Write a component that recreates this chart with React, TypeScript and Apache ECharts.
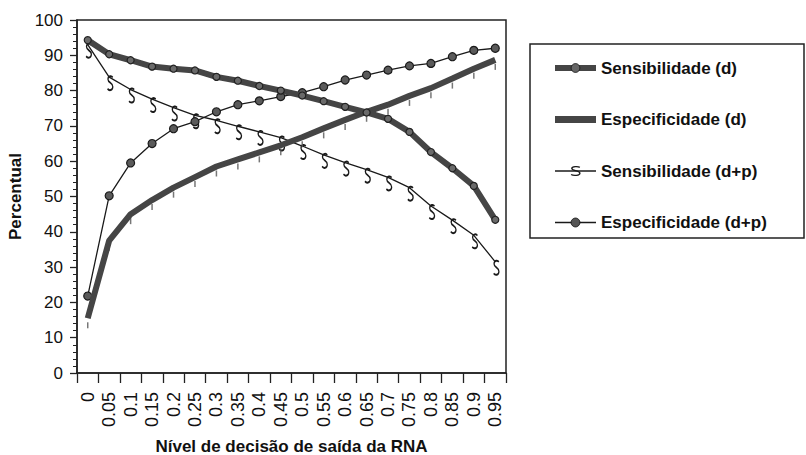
import React, { useEffect, useRef } from 'react';
import * as echarts from 'echarts';

const categories = ['0', '0.05', '0.1', '0.15', '0.2', '0.25', '0.3', '0.35', '0.4', '0.45', '0.5', '0.55', '0.6', '0.65', '0.7', '0.75', '0.8', '0.85', '0.9', '0.95'];

const sensD = [94.3, 90.3, 88.6, 86.8, 86.2, 85.7, 83.9, 82.8, 81.3, 80.0, 78.6, 77.0, 75.4, 73.8, 72.0, 68.3, 62.6, 58.0, 53.0, 43.4];
const especD = [15.5, 37.5, 45.0, 49.0, 52.5, 55.5, 58.5, 60.5, 62.5, 64.5, 66.8, 69.3, 71.7, 74.0, 76.0, 78.5, 80.7, 83.4, 86.2, 88.7];
const sensDP = [93.0, 83.8, 80.3, 77.6, 75.2, 73.0, 71.6, 69.9, 68.3, 66.7, 64.3, 61.8, 59.6, 57.6, 55.4, 52.5, 47.3, 43.3, 39.0, 31.5];
const especDP = [21.8, 50.2, 59.5, 65.0, 69.2, 71.2, 74.0, 76.0, 77.1, 78.3, 79.4, 81.1, 83.0, 84.4, 85.8, 87.0, 87.7, 89.6, 91.4, 92.0];

const seriesNames = ['Sensibilidade (d)', 'Especificidade (d)', 'Sensibilidade (d+p)', 'Especificidade (d+p)'];
const xTitle = 'Nível de decisão de saída da RNA';
const yTitle = 'Percentual';

const FONT = '"Liberation Sans", Arial, Helvetica, sans-serif';
const S_PATH = 'path://M8.5,1.8 C7.2,0.2 1.6,0 1.6,3.6 C1.6,7 8.6,6.6 8.6,10.6 C8.6,14.2 3,14.6 1,12.4';
const BAR_PATH = 'path://M0,0H41V7H0Z';

const THICK = '#454545';
const THIN = '#1a1a1a';

export default function App() {
  const ref = useRef<HTMLDivElement>(null);
  useEffect(() => {
    if (!ref.current) return;
    const chart = echarts.init(ref.current, null, { renderer: 'svg' });
    chart.setOption({
      animation: false,
      backgroundColor: '#fff',
      textStyle: { fontFamily: FONT },
      grid: {
        left: 77, right: 300, top: 20, bottom: 82,
        outerBoundsMode: 'none',
        containLabel: false,
        show: true, borderColor: '#222', borderWidth: 1.5, backgroundColor: 'transparent',
      },
      xAxis: {
        type: 'category',
        data: categories,
        boundaryGap: true,
        axisLine: { lineStyle: { color: '#222', width: 1.5 } },
        axisTick: { show: true, interval: 0, length: 10, lineStyle: { color: '#222', width: 1.3 } },
        axisLabel: { interval: 0, rotate: 90, margin: 19, fontSize: 18, color: '#111', fontFamily: FONT },
        splitLine: { show: false },
        name: xTitle,
        nameLocation: 'middle',
        nameGap: 65,
        nameTextStyle: { fontSize: 17, fontWeight: 'bold', color: '#111', fontFamily: FONT },
      },
      yAxis: {
        type: 'value',
        min: 0, max: 100, interval: 10,
        axisLine: { show: true, lineStyle: { color: '#222', width: 1.5 } },
        axisTick: { show: true, length: 7, lineStyle: { color: '#222', width: 1.3 } },
        minorTick: { show: true, splitNumber: 5, length: 4, lineStyle: { color: '#222', width: 1 } },
        splitLine: { show: false },
        minorSplitLine: { show: false },
        axisLabel: { fontSize: 17, margin: 14, color: '#111', fontFamily: FONT },
        name: yTitle,
        nameLocation: 'middle',
        nameGap: 42,
        nameRotate: 90,
        nameTextStyle: { fontSize: 17, fontWeight: 'bold', color: '#111', fontFamily: FONT },
      },
      legend: {
        data: [
          {
            name: seriesNames[0],
            lineStyle: { width: 6, color: THICK },
            itemStyle: { color: '#666', borderColor: '#222', borderWidth: 1 },
          },
          {
            name: seriesNames[1],
            icon: BAR_PATH,
            itemStyle: { color: THICK },
          },
          {
            name: seriesNames[2],
            lineStyle: { width: 1.3, color: THIN },
            itemStyle: { color: 'transparent', borderColor: THIN, borderWidth: 1.4 },
          },
          {
            name: seriesNames[3],
            lineStyle: { width: 1.3, color: THIN },
            itemStyle: { color: '#555', borderColor: THIN, borderWidth: 1 },
          },
        ],
        orient: 'vertical',
        left: 547,
        top: 53,
        itemWidth: 41,
        itemHeight: 11,
        itemGap: 31.5,
        itemTextGap: 16,
        textStyle: { fontSize: 17, fontWeight: 'bold', color: '#111', fontFamily: FONT, lineHeight: 20 },
      },
      graphic: [
        {
          type: 'rect',
          shape: { x: 530, y: 44, width: 274, height: 194 },
          style: { fill: 'transparent', stroke: '#222', lineWidth: 1.5 },
          silent: true,
        },
      ],
      series: [
        {
          name: seriesNames[2],
          type: 'line',
          data: sensDP,
          lineStyle: { width: 1.3, color: THIN },
          symbol: S_PATH,
          symbolSize: [9, 14],
          symbolKeepAspect: true,
          symbolOffset: [1, 6],
          itemStyle: { color: 'transparent', borderColor: THIN, borderWidth: 1.6 },
          z: 2,
        },
        {
          name: seriesNames[3],
          type: 'line',
          data: especDP,
          lineStyle: { width: 1.3, color: THIN },
          symbol: 'circle',
          symbolSize: 8,
          itemStyle: { color: '#5a5a5a', borderColor: THIN, borderWidth: 1.2 },
          z: 2,
        },
        {
          name: 'especD-ticks',
          type: 'scatter',
          data: especD,
          symbol: 'rect',
          symbolSize: [1.5, 6],
          symbolOffset: [0, 7],
          itemStyle: { color: '#555' },
          silent: true,
          z: 3,
        },
        {
          name: seriesNames[1],
          type: 'line',
          data: especD,
          lineStyle: { width: 6, color: THICK },
          symbol: 'none',
          itemStyle: { color: THICK },
          z: 4,
        },
        {
          name: seriesNames[0],
          type: 'line',
          data: sensD,
          lineStyle: { width: 6, color: THICK },
          symbol: 'circle',
          symbolSize: 7,
          itemStyle: { color: '#6a6a6a', borderColor: '#222', borderWidth: 1.2 },
          z: 5,
        },
      ],
    });
    return () => chart.dispose();
  }, []);
  return (
    <div
      ref={ref}
      style={{ position: 'absolute', left: 0, top: 0, width: 806, height: 455, background: '#fff' }}
    />
  );
}
